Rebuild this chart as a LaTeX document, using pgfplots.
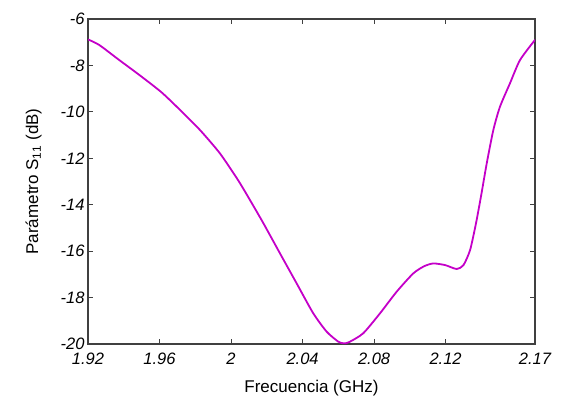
\documentclass[border=0pt]{standalone}
\usepackage{fontspec}
\setmainfont{Liberation Sans}
\usepackage{pgfplots}
\pgfplotsset{compat=1.18}
\definecolor{curve}{RGB}{196,0,200}
\definecolor{axisgray}{RGB}{64,64,64}
\begin{document}
\begin{tikzpicture}
\begin{axis}[
  scale only axis,
  width=447pt, height=325pt,
  xmin=1.92, xmax=2.17,
  ymin=-20, ymax=-6,
  xtick={1.92,1.96,2,2.04,2.08,2.12,2.17},
  xticklabels={1.92,1.96,2,2.04,2.08,2.12,2.17},
  ytick={-20,-18,...,-6},
  tick align=inside,
  major tick length=5pt,
  axis line style={axisgray, line width=1.1pt},
  every tick/.style={axisgray, line width=0.9pt},
  /pgf/number format/assume math mode=true,
  ticklabel style={font=\fontsize{16.5}{19}\selectfont\itshape},
  xticklabel style={yshift=-5pt},
  label style={font=\fontsize{17}{20}\selectfont},
  xlabel={Frecuencia (GHz)},
  ylabel={Parámetro S$_{\mathrm{11}}$ (dB)},
  xlabel style={yshift=-9pt},
  ylabel style={yshift=12pt},
  clip=true,
]
\addplot[curve, line width=1.8pt, smooth, tension=0.4] coordinates {
(1.9200,-6.88) (1.9263,-7.12) (1.9375,-7.77) (1.9487,-8.41)
(1.9610,-9.15) (1.9715,-9.92) (1.9826,-10.78) (1.9938,-11.79)
(2.0040,-12.95) (2.0106,-13.80) (2.0181,-14.80) (2.0274,-16.10)
(2.0367,-17.39) (2.0460,-18.68) (2.0535,-19.47) (2.0600,-19.90)
(2.0630,-19.97) (2.0660,-19.92) (2.0739,-19.54) (2.0833,-18.68)
(2.0926,-17.75) (2.1019,-16.96) (2.1080,-16.65) (2.1131,-16.53)
(2.1197,-16.60) (2.1262,-16.77) (2.1300,-16.60) (2.1337,-15.95)
(2.1370,-14.80) (2.1400,-13.55) (2.1430,-12.22) (2.1467,-10.78)
(2.1504,-9.78) (2.1560,-8.77) (2.1616,-7.77) (2.1700,-6.90)
};
\end{axis}
\path (-88pt,-54pt) rectangle (476pt,344pt);
\end{tikzpicture}
\end{document}
